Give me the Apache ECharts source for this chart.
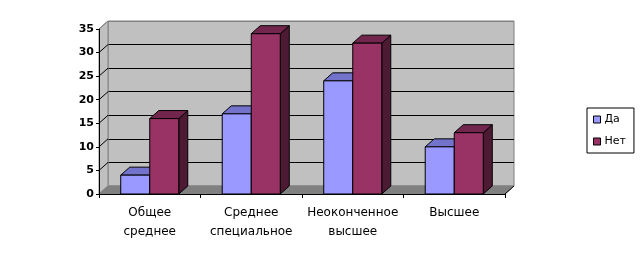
<!DOCTYPE html>
<html>
<head>
<meta charset="utf-8">
<script src="https://cdn.jsdelivr.net/npm/echarts@6/dist/echarts.min.js"></script>
<style>
html,body{margin:0;padding:0;background:#fff;}
#chart{width:642px;height:260px;}
</style>
</head>
<body>
<div id="chart"></div>
<script>
const categories = ['Общее\nсреднее', 'Среднее\nспециальное', 'Неоконченное\nвысшее', 'Высшее'];
const seriesNames = ['Да', 'Нет'];
const yesValues = [4, 17, 24, 10];
const noValues = [16, 34, 32, 13];
const yTicks = [0, 5, 10, 15, 20, 25, 30, 35];

const DX = 9, DY = -8;
const colors = {
  'Да': {front: '#9999FF', top: '#7373CC', side: '#5C5CA3'},
  'Нет': {front: '#993366', top: '#73264D', side: '#4D1A33'}
};

const chart = echarts.init(document.getElementById('chart'), null, {renderer: 'canvas'});

function barRender(sIdx, name) {
  return function (params, api) {
    const cat = api.value(0);
    const val = api.value(1);
    const top = api.coord([cat, val]);
    const base = api.coord([cat, 0]);
    const cw = api.size([1, 0])[0];
    const bw = cw * 0.286;
    const x0 = top[0] - bw + sIdx * bw;
    const yT = top[1], yB = base[1];
    const c = colors[name];
    const ls = {stroke: '#000', lineWidth: 1};
    return {
      type: 'group',
      children: [
        {type: 'polygon', shape: {points: [[x0 + bw, yT], [x0 + bw + DX, yT + DY], [x0 + bw + DX, yB + DY], [x0 + bw, yB]]}, style: Object.assign({fill: c.side}, ls)},
        {type: 'polygon', shape: {points: [[x0, yT], [x0 + bw, yT], [x0 + bw + DX, yT + DY], [x0 + DX, yT + DY]]}, style: Object.assign({fill: c.top}, ls)},
        {type: 'rect', shape: {x: x0, y: yT, width: bw, height: yB - yT}, style: Object.assign({fill: c.front}, ls)}
      ]
    };
  };
}

function decorRender(params, api) {
  const p0 = api.coord([0, 0]);
  const cw = api.size([1, 0])[0];
  const xl = p0[0] - cw / 2;
  const xr = xl + cw * categories.length;
  const yb = p0[1];
  const yt = api.coord([0, yTicks[yTicks.length - 1]])[1];
  const children = [];
  // left side wall
  children.push({type: 'polygon', shape: {points: [[xl, yb], [xl + DX, yb + DY], [xl + DX, yt + DY], [xl, yt]]}, style: {fill: '#C0C0C0', stroke: '#808080', lineWidth: 1}});
  // floor
  children.push({type: 'polygon', shape: {points: [[xl, yb], [xl + DX, yb + DY], [xr + DX, yb + DY], [xr, yb]]}, style: {fill: '#808080', stroke: '#808080', lineWidth: 1}});
  // diagonals on side wall
  yTicks.forEach(function (t, i) {
    if (i === 0) return;
    const y = api.coord([0, t])[1];
    children.push({type: 'line', shape: {x1: xl, y1: y, x2: xl + DX, y2: y + DY}, style: {stroke: i === yTicks.length - 1 ? '#808080' : '#000', lineWidth: 1}});
  });
  // right floor edge
  children.push({type: 'line', shape: {x1: xr, y1: yb, x2: xr + DX, y2: yb + DY}, style: {stroke: '#000', lineWidth: 1}});
  return {type: 'group', children: children};
}

const splitColors = yTicks.map(function (t, i) { return (i === 0 || i === yTicks.length - 1) ? '#808080' : '#000'; });

const font = 'DejaVu Sans';

chart.setOption({
  animation: false,
  backgroundColor: '#fff',
  legend: {
    orient: 'vertical',
    left: 587,
    top: 108,
    width: 44,
    padding: [6, 8, 6, 6],
    borderColor: '#000',
    borderWidth: 1,
    itemWidth: 7,
    itemHeight: 7,
    itemGap: 11,
    textStyle: {fontFamily: font, fontSize: 11, color: '#000', padding: [0, 0, 0, -1]},
    data: [
      {name: 'Да', icon: 'rect', itemStyle: {color: colors['Да'].front, borderColor: '#000', borderWidth: 1}},
      {name: 'Нет', icon: 'rect', itemStyle: {color: colors['Нет'].front, borderColor: '#000', borderWidth: 1}}
    ]
  },
  grid: [
    {left: 99, width: 406, top: 29, height: 165, show: false},
    {left: 99 + DX, width: 406, top: 29 + DY, height: 165, show: true, backgroundColor: '#C0C0C0', borderColor: '#808080', borderWidth: 1}
  ],
  xAxis: [
    {
      gridIndex: 0, type: 'category', data: categories, boundaryGap: true,
      axisLine: {lineStyle: {color: '#000', width: 1}},
      axisTick: {show: true, length: 4, lineStyle: {color: '#000'}},
      axisLabel: {fontFamily: font, fontSize: 12, color: '#000', lineHeight: 19, margin: 9, interval: 0},
      z: 5
    },
    {gridIndex: 1, type: 'category', data: categories, show: false}
  ],
  yAxis: [
    {
      gridIndex: 0, type: 'value', min: 0, max: 35, interval: 5,
      axisLine: {show: true, lineStyle: {color: '#000', width: 1}},
      axisTick: {show: true, length: 3, lineStyle: {color: '#000'}},
      axisLabel: {fontFamily: font, fontSize: 11, fontWeight: 'bold', color: '#000', margin: 5},
      splitLine: {show: false},
      z: 5
    },
    {
      gridIndex: 1, type: 'value', min: 0, max: 35, interval: 5,
      axisLine: {show: false}, axisTick: {show: false}, axisLabel: {show: false},
      splitLine: {show: true, lineStyle: {color: splitColors, width: 1}}
    }
  ],
  series: [
    {
      name: 'decor', type: 'custom', xAxisIndex: 0, yAxisIndex: 0, clip: false, z: 1,
      renderItem: decorRender, data: [[0, 0]], silent: true
    },
    {
      name: 'Да', type: 'custom', xAxisIndex: 0, yAxisIndex: 0, clip: false, z: 3,
      itemStyle: {color: colors['Да'].front},
      renderItem: barRender(0, 'Да'),
      data: yesValues.map(function (v, i) { return [i, v]; })
    },
    {
      name: 'Нет', type: 'custom', xAxisIndex: 0, yAxisIndex: 0, clip: false, z: 3,
      itemStyle: {color: colors['Нет'].front},
      renderItem: barRender(1, 'Нет'),
      data: noValues.map(function (v, i) { return [i, v]; })
    }
  ]
});
</script>
</body>
</html>
